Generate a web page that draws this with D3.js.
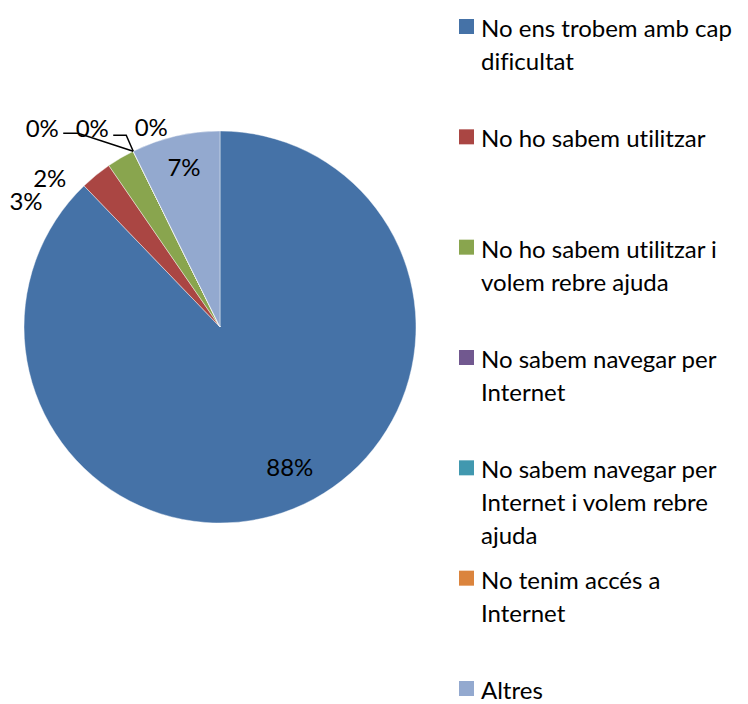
<!DOCTYPE html>
<html>
<head>
<meta charset="utf-8">
<script src="https://cdn.jsdelivr.net/npm/d3@7/dist/d3.min.js"></script>
<style>
  html, body { margin: 0; padding: 0; background: #fff; }
  svg { display: block; }
  text { font-family: Lato, "Open Sans", sans-serif; fill: #000; font-variant-ligatures: none; }
</style>
</head>
<body>
<svg id="chart" width="748" height="704"></svg>
<script>
// Categories (legend order, clockwise from 12 o'clock)
const categories = [
  "No ens trobem amb cap dificultat",
  "No ho sabem utilitzar",
  "No ho sabem utilitzar i volem rebre ajuda",
  "No sabem navegar per Internet",
  "No sabem navegar per Internet i volem rebre ajuda",
  "No tenim accés a Internet",
  "Altres"
];
// Share of answers, percent
const values = [87.8, 2.6, 2.3, 0, 0, 0, 7.3];
// Percent labels shown on the slices
const valueLabels = ["88%", "3%", "2%", "0%", "0%", "0%", "7%"];
// Legend text broken into lines
const legendLines = [
  ["No ens trobem amb cap", "dificultat"],
  ["No ho sabem utilitzar"],
  ["No ho sabem utilitzar i", "volem rebre ajuda"],
  ["No sabem navegar per", "Internet"],
  ["No sabem navegar per", "Internet i volem rebre", "ajuda"],
  ["No tenim accés a", "Internet"],
  ["Altres"]
];
const colors = ["#4572A7", "#AA4643", "#89A54E", "#71588F", "#4198AF", "#DB843D", "#93A9CF"];

const svg = d3.select("#chart");
const cx = 220, cy = 327, R = 196;
const fontSize = 24;

const color = d3.scaleOrdinal().domain(categories).range(colors);

const pie = d3.pie().sort(null).value(d => d.value);
const data = categories.map((c, i) => ({ cat: c, value: values[i], label: valueLabels[i], i }));
const arcs = pie(data);

const arc = d3.arc().innerRadius(0).outerRadius(R);
const g = svg.append("g").attr("transform", `translate(${cx},${cy})`);

g.selectAll("path.slice")
  .data(arcs)
  .enter().append("path")
  .attr("class", "slice")
  .attr("d", arc)
  .attr("fill", d => color(d.data.cat))
  .attr("stroke", "#fff")
  .attr("stroke-width", 0.6)
  .attr("stroke-opacity", 0.7);

// Inside labels for the large slices
const inner = d3.arc().innerRadius(R * 0.83).outerRadius(R * 0.83);
const insideIdx = [0, 6];
const insideShift = { 0: [9, -11], 6: [1, -2] };
g.selectAll("text.inside")
  .data(arcs.filter(a => insideIdx.includes(a.data.i)))
  .enter().append("text")
  .attr("class", "inside")
  .attr("x", d => inner.centroid(d)[0] + insideShift[d.data.i][0])
  .attr("y", d => inner.centroid(d)[1] + insideShift[d.data.i][1])
  .attr("text-anchor", "middle")
  .attr("dominant-baseline", "central")
  .style("font-size", fontSize + "px")
  .text(d => d.data.label);

// Outside labels for the small slices, placed relative to the slice edge point
const edge = d3.arc().innerRadius(R).outerRadius(R);
const outsideOffset = {
  1: [-70, 25],     // 3%
  2: [-71, 20],     // 2%
  3: [-91, -24],    // 0%
  4: [-41, -24],    // 0%
  5: [18, -25]      // 0%
};
const leaderOffsets = {
  3: [[-55, -18], [-70, -18]],
  4: [[-7, -16], [-20, -16]]
};
const outs = arcs.filter(a => outsideOffset[a.data.i]);
outs.forEach(a => {
  const p = edge.centroid(a);
  const o = outsideOffset[a.data.i];
  g.append("text")
    .attr("x", p[0] + o[0])
    .attr("y", p[1] + o[1])
    .attr("text-anchor", "middle")
    .attr("dominant-baseline", "central")
    .style("font-size", fontSize + "px")
    .text(a.data.label);
  const lo = leaderOffsets[a.data.i];
  if (lo) {
    const pts = [p, [p[0] + lo[0][0], p[1] + lo[0][1]], [p[0] + lo[1][0], p[1] + lo[1][1]]];
    g.append("path")
      .attr("d", d3.line()(pts))
      .attr("fill", "none")
      .attr("stroke", "#000")
      .attr("stroke-width", 1.5);
  }
});

// Legend
const legendY = d3.scalePoint().domain(categories).range([27, 689]);
const lineH = 33;
const leg = svg.append("g");
categories.forEach((c, i) => {
  const y = legendY(c);
  leg.append("rect")
    .attr("x", 459).attr("y", y - 8)
    .attr("width", 15).attr("height", 15)
    .attr("fill", color(c));
  const t = leg.append("text")
    .attr("x", 481).attr("y", y)
    .attr("dominant-baseline", "central")
    .style("font-size", fontSize + "px");
  legendLines[i].forEach((ln, k) => {
    t.append("tspan").attr("x", 481).attr("y", y + k * lineH).text(ln);
  });
});
</script>
</body>
</html>
